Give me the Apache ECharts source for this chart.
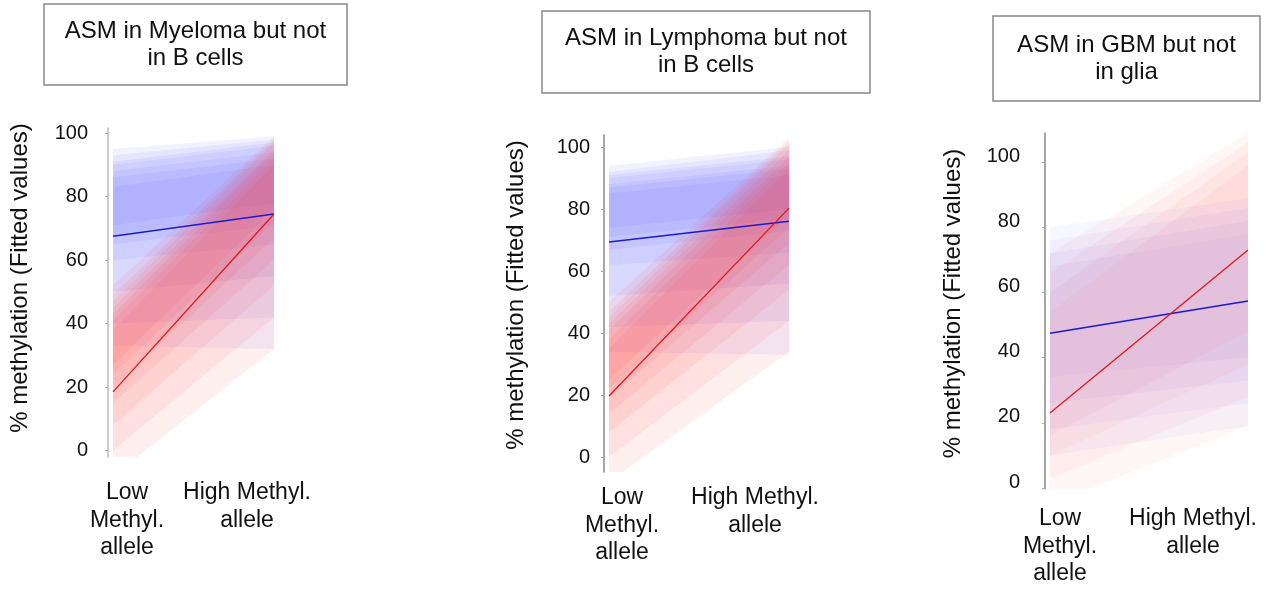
<!DOCTYPE html>
<html>
<head>
<meta charset="utf-8">
<title>ASM fitted methylation</title>
<script src="https://cdn.jsdelivr.net/npm/echarts@6/dist/echarts.min.js"></script>
<style>
    html, body { margin: 0; padding: 0; background: #fff; }
    #main { width: 1277px; height: 589px; }
</style>
</head>
<body>
<div id="main"></div>
<script>
// categories and tick labels
var categories = ['Low Methyl. allele', 'High Methyl. allele'];
var yTicks = [0, 20, 40, 60, 80, 100];
var panelTitles = ['ASM in Myeloma but not\nin B cells', 'ASM in Lymphoma but not\nin B cells', 'ASM in GBM but not\nin glia'];
var yName = '% methylation (Fitted values)';

// fitted values [low allele, high allele]
var myelomaBlueFit = [67.5, 74.5];
var myelomaRedFit = [18.5, 74.5];
var lymphomaBlueFit = [69.4, 76.1];
var lymphomaRedFit = [19.7, 80.3];
var gbmBlueFit = [47.5, 57.4];
var gbmRedFit = [23, 73];

// spread of the individual fitted lines, outer to inner
// [low bottom, low top, high bottom, high top]
var myelomaBlueBands = [[33, 95, 32, 99], [40, 93, 42, 98], [50, 91, 55, 97], [60, 90, 65, 96], [65, 88, 71, 94], [68, 86, 75, 92], [71, 83, 78, 90]];
var myelomaRedBands = [[-8, 52, 32, 99], [0, 49, 42, 98], [8, 47, 52, 97], [15, 45, 60, 95], [20, 43, 67, 94], [24, 41, 72, 92], [27, 38, 76, 90]];
var lymphomaBlueBands = [[34, 94, 33, 100], [42, 92, 44, 99], [52, 91, 56, 97], [62, 90, 66, 96], [67, 88, 73, 94], [71, 87, 77, 93], [74, 85, 80, 91]];
var lymphomaRedBands = [[-8, 50, 34, 103], [0, 47, 44, 102], [8, 45, 54, 101], [14, 43, 62, 99], [19, 41, 69, 97], [22, 38, 74, 95], [25, 35, 78, 93]];
var gbmBlueBands = [[10, 80, 19, 89], [18, 76, 26, 86], [26, 72, 33, 82], [34, 68, 40, 78]];
var gbmRedBands = [[-5, 72, 19, 109], [3, 66, 28, 106], [10, 60, 38, 103], [16, 54, 48, 99]];

var font = '"Liberation Sans", Arial, sans-serif';

// one entry per panel: grid box and axis range
var panels = [
    { left: 113, right: 1003, top: 128, bottom: 132, min: -2, max: 101.6, axisColor: '#bbb', labelMargin: 20,
      labelAlign: 'middle', labelLH: 20,
      nameGap: 76, nameShift: 29, xMargin: 22, lowPad: 28, highPad: 54, blueAlpha: 0.06, redAlpha: 0.07,
      blueFit: myelomaBlueFit, redFit: myelomaRedFit, blueBands: myelomaBlueBands, redBands: myelomaRedBands,
      box: [44, 4, 303, 81] },
    { left: 609, right: 488, top: 135, bottom: 117, min: -4.8, max: 103.9, axisColor: '#888', labelMargin: 14,
      labelAlign: 'middle', labelLH: 20,
      nameGap: 76, nameShift: 17, xMargin: 12, lowPad: 26, highPad: 68, blueAlpha: 0.06, redAlpha: 0.07,
      blueFit: lymphomaBlueFit, redFit: lymphomaRedFit, blueBands: lymphomaBlueBands, redBands: lymphomaRedBands,
      box: [542, 11, 328, 82] },
    { left: 1050, right: 29, top: 133, bottom: 100, min: -0.3, max: 108.9, axisColor: '#888', labelMargin: 25,
      labelAlign: 'bottom', labelLH: 12,
      nameGap: 80, nameShift: 15, xMargin: 16, lowPad: 20, highPad: 110, blueAlpha: 0.035, redAlpha: 0.04,
      blueFit: gbmBlueFit, redFit: gbmRedFit, blueBands: gbmBlueBands, redBands: gbmRedBands,
      box: [993, 16, 267, 85] }
];

function bandRenderer(color, alpha) {
    return function (params, api) {
        var a = api.coord([0, api.value(1)]);
        var b = api.coord([0, api.value(2)]);
        var c = api.coord([1, api.value(4)]);
        var d = api.coord([1, api.value(3)]);
        return {
            type: 'polygon',
            shape: { points: [a, b, c, d] },
            style: { fill: color, opacity: alpha }
        };
    };
}

var grids = [], xAxes = [], yAxes = [], series = [], graphics = [];

for (var i = 0; i < panels.length; i++) {
    var p = panels[i];
    grids.push({ left: p.left, right: p.right, top: p.top, bottom: p.bottom, outerBoundsMode: 'none' });

    xAxes.push({
        type: 'category',
        gridIndex: i,
        data: categories,
        boundaryGap: false,
        axisLine: { show: false },
        axisTick: { show: false },
        axisLabel: {
            margin: p.xMargin,
            interval: 0,
            formatter: function (value, idx) {
                if (idx === 0) return '{lo|Low}\n{lo|Methyl.}\n{lo|allele}';
                return '{hi|High Methyl.}\n{hi|allele}';
            },
            rich: {
                lo: { fontSize: 23, lineHeight: 27.5, color: '#111', fontFamily: font, padding: [0, 0, 0, p.lowPad] },
                hi: { fontSize: 23, lineHeight: 27.5, color: '#111', fontFamily: font, padding: [0, p.highPad, 0, 0] }
            }
        }
    });

    yAxes.push({
        type: 'value',
        gridIndex: i,
        min: p.min,
        max: p.max,
        offset: 5,
        splitLine: { show: false },
        axisLine: { show: true, lineStyle: { color: p.axisColor, width: 1.5 } },
        axisTick: { show: true, length: 3, customValues: yTicks, lineStyle: { color: '#aaa' } },
        axisLabel: {
            customValues: yTicks,
            margin: p.labelMargin,
            fontSize: 20,
            lineHeight: p.labelLH,
            verticalAlign: p.labelAlign,
            color: '#111',
            fontFamily: font
        },
        name: yName,
        nameLocation: 'middle',
        nameGap: p.nameGap,
        nameTextStyle: { fontSize: 24, color: '#111', fontFamily: font, padding: [0, 0, 0, p.nameShift] }
    });

    series.push({
        type: 'custom',
        xAxisIndex: i,
        yAxisIndex: i,
        clip: true,
        silent: true,
        renderItem: bandRenderer('#2a2aff', p.blueAlpha),
        encode: { x: 0, y: [1, 2, 3, 4] },
        data: p.blueBands.map(function (b) { return [0].concat(b); }),
        z: 1
    });
    series.push({
        type: 'custom',
        xAxisIndex: i,
        yAxisIndex: i,
        clip: true,
        silent: true,
        renderItem: bandRenderer('#ff2020', p.redAlpha),
        encode: { x: 0, y: [1, 2, 3, 4] },
        data: p.redBands.map(function (b) { return [0].concat(b); }),
        z: 2
    });
    series.push({
        name: 'blue fit',
        type: 'line',
        xAxisIndex: i,
        yAxisIndex: i,
        data: p.blueFit,
        symbol: 'none',
        lineStyle: { color: '#1a1ad0', width: 1.5 },
        z: 5
    });
    series.push({
        name: 'red fit',
        type: 'line',
        xAxisIndex: i,
        yAxisIndex: i,
        data: p.redFit,
        symbol: 'none',
        lineStyle: { color: '#e01818', width: 1.3 },
        z: 5
    });

    // title box
    graphics.push({
        type: 'rect',
        shape: { x: p.box[0], y: p.box[1], width: p.box[2], height: p.box[3] },
        style: { fill: '#fff', stroke: '#888', lineWidth: 1.5 }
    });
    graphics.push({
        type: 'text',
        x: p.box[0] + p.box[2] / 2,
        y: p.box[1] + p.box[3] / 2,
        style: {
            text: panelTitles[i],
            font: '24px ' + font,
            fill: '#111',
            align: 'center',
            verticalAlign: 'middle',
            lineHeight: 27
        }
    });
}

var myChart = echarts.init(document.getElementById('main'));
var option = {
    animation: false,
    grid: grids,
    xAxis: xAxes,
    yAxis: yAxes,
    series: series,
    graphic: graphics
};
myChart.setOption(option);
</script>
</body>
</html>
